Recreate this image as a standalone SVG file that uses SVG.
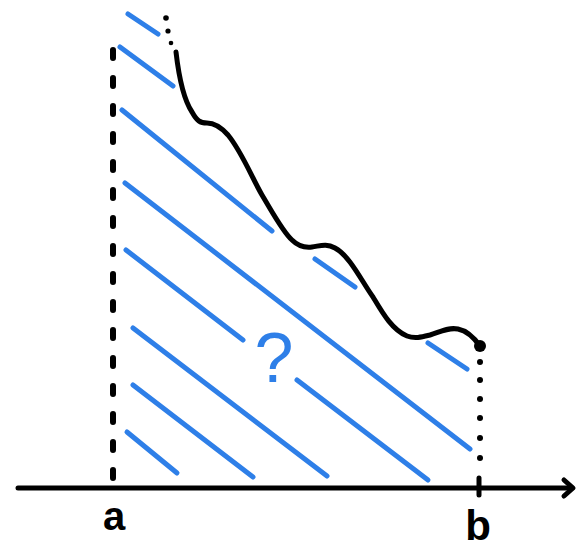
<svg xmlns="http://www.w3.org/2000/svg" width="586" height="549" viewBox="0 0 586 549">
<style>
.hatch{stroke:#2e7fe8;stroke-width:5;stroke-linecap:round;fill:none}
.ink{stroke:#000;stroke-width:5;stroke-linecap:round;stroke-linejoin:round;fill:none}
.lbl{font-family:"Liberation Sans",Arial,sans-serif;font-weight:bold;fill:#000;text-anchor:middle}
</style>
<rect width="586" height="549" fill="#fff"/>
<g id="hatching">
<line class="hatch" x1="128" y1="14" x2="158" y2="34"/>
<line class="hatch" x1="120" y1="47" x2="173" y2="86"/>
<line class="hatch" x1="122" y1="110" x2="272" y2="231"/>
<line class="hatch" x1="315" y1="259" x2="355" y2="287"/>
<line class="hatch" x1="428" y1="343" x2="467" y2="369"/>
<line class="hatch" x1="125" y1="183" x2="470" y2="449"/>
<line class="hatch" x1="126" y1="250" x2="243" y2="340"/>
<line class="hatch" x1="297" y1="380" x2="428" y2="480"/>
<line class="hatch" x1="133" y1="328" x2="327" y2="476"/>
<line class="hatch" x1="133" y1="385" x2="253" y2="477"/>
<line class="hatch" x1="127" y1="432" x2="177" y2="473"/>
</g>
<g id="question">
<text x="274" y="382" font-family="Liberation Sans, Arial, sans-serif" font-size="70" fill="#2e7fe8" text-anchor="middle">?</text>
</g>
<g id="connectors">
<path id="axis" class="ink" d="M18,488 H572"/>
<polyline class="ink" points="564,480 573,488 564,496"/>
<path id="left-bound" d="M113,50 V484" stroke="#000" stroke-width="6" stroke-linecap="round" stroke-dasharray="8 20" fill="none"/>
<g id="right-bound" fill="#000">
<circle cx="480" cy="362" r="3"/>
<circle cx="480" cy="380" r="3"/>
<circle cx="480" cy="399" r="3"/>
<circle cx="480" cy="418" r="3"/>
<circle cx="480" cy="438" r="3"/>
<circle cx="480" cy="458" r="3"/>
<line x1="479" y1="478" x2="479" y2="495" stroke="#000" stroke-width="5" stroke-linecap="round"/>
</g>
</g>
<g id="curve">
<circle cx="166" cy="18" r="2.8" fill="#000"/>
<circle cx="168" cy="31" r="2.6" fill="#000"/>
<circle cx="171" cy="43" r="2.3" fill="#000"/>
<path class="ink" d="M176,52 C179,78 184,100 192,112 C197,121 200,123 207,123 C214,123 220,126 228,135 C242,152 252,178 262,195 C274,215 283,232 292,240 C298,246 304,248 312,247 C320,246 326,243 335,248 C350,256 362,282 373,297 C382,312 392,330 407,336 C415,339 422,337 430,335 C440,332 448,327 458,329 C468,331 475,339 480,346"/>
<circle cx="480" cy="346" r="6" fill="#000"/>
</g>
<g id="label-a"><text class="lbl" x="114" y="530" font-size="40">a</text></g>
<g id="label-b"><text class="lbl" x="478" y="540" font-size="42">b</text></g>
</svg>
